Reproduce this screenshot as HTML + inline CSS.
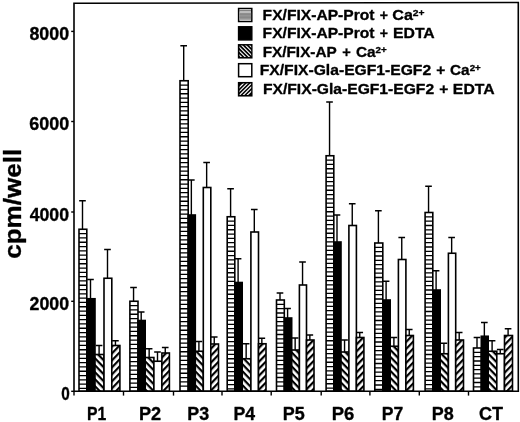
<!DOCTYPE html>
<html lang="en"><head><meta charset="utf-8"><title>cpm/well bar chart</title>
<style>html,body{margin:0;padding:0;background:#fff}body{width:520px;height:422px;overflow:hidden}svg{display:block}text{font-family:"Liberation Sans",Arial,Helvetica,sans-serif;font-weight:bold;fill:#000;stroke:#000;stroke-width:0.33px;stroke-linejoin:round}</style>
</head><body>
<svg width="520" height="422" viewBox="0 0 520 422">
<defs>
<pattern id="bk" patternUnits="userSpaceOnUse" width="8" height="4.85" patternTransform="rotate(46)"><rect width="8" height="4.85" fill="#fff"/><rect width="8" height="2.2" fill="#000"/></pattern>
<pattern id="fw" patternUnits="userSpaceOnUse" width="8" height="4.85" patternTransform="rotate(-46)"><rect width="8" height="4.85" fill="#fff"/><rect width="8" height="2.2" fill="#000"/></pattern>
</defs>
<rect width="520" height="422" fill="#fff"/>
<g stroke="#000" stroke-width="1.60">
<rect x="79.00" y="229.25" width="7.80" height="161.95" fill="#fff"/>
<rect x="86.80" y="298.75" width="8.20" height="92.45" fill="#000"/>
<rect x="95.00" y="354.50" width="9.00" height="36.70" fill="url(#bk)"/>
<rect x="104.00" y="278.25" width="7.80" height="112.95" fill="#fff"/>
<rect x="111.80" y="345.50" width="8.10" height="45.70" fill="url(#fw)"/>
<rect x="129.90" y="301.25" width="8.10" height="89.95" fill="#fff"/>
<rect x="138.00" y="320.50" width="7.20" height="70.70" fill="#000"/>
<rect x="145.20" y="357.50" width="8.70" height="33.70" fill="url(#bk)"/>
<rect x="153.90" y="361.25" width="8.00" height="29.95" fill="#fff"/>
<rect x="161.90" y="353.00" width="7.50" height="38.20" fill="url(#fw)"/>
<rect x="180.00" y="80.75" width="8.20" height="310.45" fill="#fff"/>
<rect x="188.20" y="215.00" width="7.10" height="176.20" fill="#000"/>
<rect x="195.30" y="351.25" width="8.00" height="39.95" fill="url(#bk)"/>
<rect x="203.30" y="187.50" width="7.50" height="203.70" fill="#fff"/>
<rect x="210.80" y="344.00" width="7.70" height="47.20" fill="url(#fw)"/>
<rect x="227.20" y="216.75" width="7.60" height="174.45" fill="#fff"/>
<rect x="234.80" y="282.50" width="7.40" height="108.70" fill="#000"/>
<rect x="242.20" y="358.75" width="8.70" height="32.45" fill="url(#bk)"/>
<rect x="250.90" y="232.00" width="7.60" height="159.20" fill="#fff"/>
<rect x="258.50" y="343.75" width="7.50" height="47.45" fill="url(#fw)"/>
<rect x="276.50" y="300.00" width="7.80" height="91.20" fill="#fff"/>
<rect x="284.30" y="318.00" width="7.40" height="73.20" fill="#000"/>
<rect x="291.70" y="350.00" width="7.70" height="41.20" fill="url(#bk)"/>
<rect x="299.40" y="285.00" width="7.10" height="106.20" fill="#fff"/>
<rect x="306.50" y="340.00" width="7.50" height="51.20" fill="url(#fw)"/>
<rect x="326.10" y="155.75" width="7.70" height="235.45" fill="#fff"/>
<rect x="333.80" y="242.00" width="7.20" height="149.20" fill="#000"/>
<rect x="341.00" y="352.00" width="7.90" height="39.20" fill="url(#bk)"/>
<rect x="348.90" y="225.50" width="7.50" height="165.70" fill="#fff"/>
<rect x="356.40" y="337.50" width="7.50" height="53.70" fill="url(#fw)"/>
<rect x="374.80" y="243.00" width="8.00" height="148.20" fill="#fff"/>
<rect x="382.80" y="300.00" width="7.40" height="91.20" fill="#000"/>
<rect x="390.20" y="346.25" width="8.20" height="44.95" fill="url(#bk)"/>
<rect x="398.40" y="259.50" width="7.50" height="131.70" fill="#fff"/>
<rect x="405.90" y="335.50" width="7.50" height="55.70" fill="url(#fw)"/>
<rect x="425.10" y="212.50" width="7.70" height="178.70" fill="#fff"/>
<rect x="432.80" y="290.00" width="7.40" height="101.20" fill="#000"/>
<rect x="440.20" y="353.75" width="8.20" height="37.45" fill="url(#bk)"/>
<rect x="448.40" y="253.25" width="7.30" height="137.95" fill="#fff"/>
<rect x="455.70" y="340.00" width="7.80" height="51.20" fill="url(#fw)"/>
<rect x="473.50" y="348.00" width="7.80" height="43.20" fill="#fff"/>
<rect x="481.30" y="336.25" width="6.90" height="54.95" fill="#000"/>
<rect x="488.20" y="351.25" width="8.60" height="39.95" fill="url(#bk)"/>
<rect x="496.80" y="353.75" width="7.70" height="37.45" fill="#fff"/>
<rect x="504.50" y="335.50" width="8.00" height="55.70" fill="url(#fw)"/>
</g>
<path d="M79.00 233.65H86.80M79.00 237.95H86.80M79.00 242.25H86.80M79.00 246.55H86.80M79.00 250.85H86.80M79.00 255.15H86.80M79.00 259.45H86.80M79.00 263.75H86.80M79.00 268.05H86.80M79.00 272.35H86.80M79.00 276.65H86.80M79.00 280.95H86.80M79.00 285.25H86.80M79.00 289.55H86.80M79.00 293.85H86.80M79.00 298.15H86.80M79.00 302.45H86.80M79.00 306.75H86.80M79.00 311.05H86.80M79.00 315.35H86.80M79.00 319.65H86.80M79.00 323.95H86.80M79.00 328.25H86.80M79.00 332.55H86.80M79.00 336.85H86.80M79.00 341.15H86.80M79.00 345.45H86.80M79.00 349.75H86.80M79.00 354.05H86.80M79.00 358.35H86.80M79.00 362.65H86.80M79.00 366.95H86.80M79.00 371.25H86.80M79.00 375.55H86.80M79.00 379.85H86.80M79.00 384.15H86.80M79.00 388.45H86.80M129.90 305.65H138.00M129.90 309.95H138.00M129.90 314.25H138.00M129.90 318.55H138.00M129.90 322.85H138.00M129.90 327.15H138.00M129.90 331.45H138.00M129.90 335.75H138.00M129.90 340.05H138.00M129.90 344.35H138.00M129.90 348.65H138.00M129.90 352.95H138.00M129.90 357.25H138.00M129.90 361.55H138.00M129.90 365.85H138.00M129.90 370.15H138.00M129.90 374.45H138.00M129.90 378.75H138.00M129.90 383.05H138.00M129.90 387.35H138.00M180.00 85.15H188.20M180.00 89.45H188.20M180.00 93.75H188.20M180.00 98.05H188.20M180.00 102.35H188.20M180.00 106.65H188.20M180.00 110.95H188.20M180.00 115.25H188.20M180.00 119.55H188.20M180.00 123.85H188.20M180.00 128.15H188.20M180.00 132.45H188.20M180.00 136.75H188.20M180.00 141.05H188.20M180.00 145.35H188.20M180.00 149.65H188.20M180.00 153.95H188.20M180.00 158.25H188.20M180.00 162.55H188.20M180.00 166.85H188.20M180.00 171.15H188.20M180.00 175.45H188.20M180.00 179.75H188.20M180.00 184.05H188.20M180.00 188.35H188.20M180.00 192.65H188.20M180.00 196.95H188.20M180.00 201.25H188.20M180.00 205.55H188.20M180.00 209.85H188.20M180.00 214.15H188.20M180.00 218.45H188.20M180.00 222.75H188.20M180.00 227.05H188.20M180.00 231.35H188.20M180.00 235.65H188.20M180.00 239.95H188.20M180.00 244.25H188.20M180.00 248.55H188.20M180.00 252.85H188.20M180.00 257.15H188.20M180.00 261.45H188.20M180.00 265.75H188.20M180.00 270.05H188.20M180.00 274.35H188.20M180.00 278.65H188.20M180.00 282.95H188.20M180.00 287.25H188.20M180.00 291.55H188.20M180.00 295.85H188.20M180.00 300.15H188.20M180.00 304.45H188.20M180.00 308.75H188.20M180.00 313.05H188.20M180.00 317.35H188.20M180.00 321.65H188.20M180.00 325.95H188.20M180.00 330.25H188.20M180.00 334.55H188.20M180.00 338.85H188.20M180.00 343.15H188.20M180.00 347.45H188.20M180.00 351.75H188.20M180.00 356.05H188.20M180.00 360.35H188.20M180.00 364.65H188.20M180.00 368.95H188.20M180.00 373.25H188.20M180.00 377.55H188.20M180.00 381.85H188.20M180.00 386.15H188.20M227.20 221.15H234.80M227.20 225.45H234.80M227.20 229.75H234.80M227.20 234.05H234.80M227.20 238.35H234.80M227.20 242.65H234.80M227.20 246.95H234.80M227.20 251.25H234.80M227.20 255.55H234.80M227.20 259.85H234.80M227.20 264.15H234.80M227.20 268.45H234.80M227.20 272.75H234.80M227.20 277.05H234.80M227.20 281.35H234.80M227.20 285.65H234.80M227.20 289.95H234.80M227.20 294.25H234.80M227.20 298.55H234.80M227.20 302.85H234.80M227.20 307.15H234.80M227.20 311.45H234.80M227.20 315.75H234.80M227.20 320.05H234.80M227.20 324.35H234.80M227.20 328.65H234.80M227.20 332.95H234.80M227.20 337.25H234.80M227.20 341.55H234.80M227.20 345.85H234.80M227.20 350.15H234.80M227.20 354.45H234.80M227.20 358.75H234.80M227.20 363.05H234.80M227.20 367.35H234.80M227.20 371.65H234.80M227.20 375.95H234.80M227.20 380.25H234.80M227.20 384.55H234.80M227.20 388.85H234.80M276.50 304.40H284.30M276.50 308.70H284.30M276.50 313.00H284.30M276.50 317.30H284.30M276.50 321.60H284.30M276.50 325.90H284.30M276.50 330.20H284.30M276.50 334.50H284.30M276.50 338.80H284.30M276.50 343.10H284.30M276.50 347.40H284.30M276.50 351.70H284.30M276.50 356.00H284.30M276.50 360.30H284.30M276.50 364.60H284.30M276.50 368.90H284.30M276.50 373.20H284.30M276.50 377.50H284.30M276.50 381.80H284.30M276.50 386.10H284.30M326.10 160.15H333.80M326.10 164.45H333.80M326.10 168.75H333.80M326.10 173.05H333.80M326.10 177.35H333.80M326.10 181.65H333.80M326.10 185.95H333.80M326.10 190.25H333.80M326.10 194.55H333.80M326.10 198.85H333.80M326.10 203.15H333.80M326.10 207.45H333.80M326.10 211.75H333.80M326.10 216.05H333.80M326.10 220.35H333.80M326.10 224.65H333.80M326.10 228.95H333.80M326.10 233.25H333.80M326.10 237.55H333.80M326.10 241.85H333.80M326.10 246.15H333.80M326.10 250.45H333.80M326.10 254.75H333.80M326.10 259.05H333.80M326.10 263.35H333.80M326.10 267.65H333.80M326.10 271.95H333.80M326.10 276.25H333.80M326.10 280.55H333.80M326.10 284.85H333.80M326.10 289.15H333.80M326.10 293.45H333.80M326.10 297.75H333.80M326.10 302.05H333.80M326.10 306.35H333.80M326.10 310.65H333.80M326.10 314.95H333.80M326.10 319.25H333.80M326.10 323.55H333.80M326.10 327.85H333.80M326.10 332.15H333.80M326.10 336.45H333.80M326.10 340.75H333.80M326.10 345.05H333.80M326.10 349.35H333.80M326.10 353.65H333.80M326.10 357.95H333.80M326.10 362.25H333.80M326.10 366.55H333.80M326.10 370.85H333.80M326.10 375.15H333.80M326.10 379.45H333.80M326.10 383.75H333.80M326.10 388.05H333.80M374.80 247.40H382.80M374.80 251.70H382.80M374.80 256.00H382.80M374.80 260.30H382.80M374.80 264.60H382.80M374.80 268.90H382.80M374.80 273.20H382.80M374.80 277.50H382.80M374.80 281.80H382.80M374.80 286.10H382.80M374.80 290.40H382.80M374.80 294.70H382.80M374.80 299.00H382.80M374.80 303.30H382.80M374.80 307.60H382.80M374.80 311.90H382.80M374.80 316.20H382.80M374.80 320.50H382.80M374.80 324.80H382.80M374.80 329.10H382.80M374.80 333.40H382.80M374.80 337.70H382.80M374.80 342.00H382.80M374.80 346.30H382.80M374.80 350.60H382.80M374.80 354.90H382.80M374.80 359.20H382.80M374.80 363.50H382.80M374.80 367.80H382.80M374.80 372.10H382.80M374.80 376.40H382.80M374.80 380.70H382.80M374.80 385.00H382.80M374.80 389.30H382.80M425.10 216.90H432.80M425.10 221.20H432.80M425.10 225.50H432.80M425.10 229.80H432.80M425.10 234.10H432.80M425.10 238.40H432.80M425.10 242.70H432.80M425.10 247.00H432.80M425.10 251.30H432.80M425.10 255.60H432.80M425.10 259.90H432.80M425.10 264.20H432.80M425.10 268.50H432.80M425.10 272.80H432.80M425.10 277.10H432.80M425.10 281.40H432.80M425.10 285.70H432.80M425.10 290.00H432.80M425.10 294.30H432.80M425.10 298.60H432.80M425.10 302.90H432.80M425.10 307.20H432.80M425.10 311.50H432.80M425.10 315.80H432.80M425.10 320.10H432.80M425.10 324.40H432.80M425.10 328.70H432.80M425.10 333.00H432.80M425.10 337.30H432.80M425.10 341.60H432.80M425.10 345.90H432.80M425.10 350.20H432.80M425.10 354.50H432.80M425.10 358.80H432.80M425.10 363.10H432.80M425.10 367.40H432.80M425.10 371.70H432.80M425.10 376.00H432.80M425.10 380.30H432.80M425.10 384.60H432.80M425.10 388.90H432.80M473.50 352.40H481.30M473.50 356.70H481.30M473.50 361.00H481.30M473.50 365.30H481.30M473.50 369.60H481.30M473.50 373.90H481.30M473.50 378.20H481.30M473.50 382.50H481.30M473.50 386.80H481.30" stroke="#000" stroke-width="1.3" fill="none"/>
<g stroke="#000" stroke-width="1.4" fill="none">
<path d="M82.50 229.25V200.75M79.15 200.75H85.80"/>
<path d="M90.50 298.75V279.50M87.15 279.50H93.80"/>
<path d="M99.10 354.50V345.50M95.75 345.50H102.40"/>
<path d="M107.50 278.25V249.50M104.15 249.50H110.80"/>
<path d="M115.45 345.50V340.75M112.10 340.75H118.75"/>
<path d="M133.55 301.25V287.50M130.20 287.50H136.85"/>
<path d="M141.20 320.50V312.00M137.85 312.00H144.50"/>
<path d="M149.15 357.50V348.75M145.80 348.75H152.45"/>
<path d="M157.50 361.25V352.00M154.15 352.00H160.80"/>
<path d="M165.25 353.00V347.50M161.90 347.50H168.55"/>
<path d="M183.70 80.75V45.75M180.35 45.75H187.00"/>
<path d="M191.35 215.00V180.00M188.00 180.00H194.65"/>
<path d="M198.90 351.25V341.50M195.55 341.50H202.20"/>
<path d="M206.65 187.50V162.50M203.30 162.50H209.95"/>
<path d="M214.25 344.00V337.00M210.90 337.00H217.55"/>
<path d="M230.60 216.75V188.75M227.25 188.75H233.90"/>
<path d="M238.10 282.50V258.75M234.75 258.75H241.40"/>
<path d="M246.15 358.75V343.75M242.80 343.75H249.45"/>
<path d="M254.30 232.00V209.50M250.95 209.50H257.60"/>
<path d="M261.85 343.75V338.25M258.50 338.25H265.15"/>
<path d="M280.00 300.00V293.00M276.65 293.00H283.30"/>
<path d="M287.60 318.00V308.50M284.25 308.50H290.90"/>
<path d="M295.15 350.00V338.00M291.80 338.00H298.45"/>
<path d="M302.55 285.00V262.00M299.20 262.00H305.85"/>
<path d="M309.85 340.00V335.00M306.50 335.00H313.15"/>
<path d="M329.55 155.75V102.00M326.20 102.00H332.85"/>
<path d="M337.00 242.00V215.00M333.65 215.00H340.30"/>
<path d="M344.55 352.00V340.00M341.20 340.00H347.85"/>
<path d="M352.25 225.50V203.75M348.90 203.75H355.55"/>
<path d="M359.75 337.50V332.50M356.40 332.50H363.05"/>
<path d="M378.40 243.00V210.75M375.05 210.75H381.70"/>
<path d="M386.10 300.00V281.25M382.75 281.25H389.40"/>
<path d="M393.90 346.25V337.50M390.55 337.50H397.20"/>
<path d="M401.75 259.50V237.50M398.40 237.50H405.05"/>
<path d="M409.25 335.50V329.50M405.90 329.50H412.55"/>
<path d="M428.55 212.50V186.25M425.20 186.25H431.85"/>
<path d="M436.10 290.00V270.75M432.75 270.75H439.40"/>
<path d="M443.90 353.75V343.25M440.55 343.25H447.20"/>
<path d="M451.65 253.25V237.50M448.30 237.50H454.95"/>
<path d="M459.20 340.00V332.50M455.85 332.50H462.50"/>
<path d="M477.00 348.00V337.50M473.65 337.50H480.30"/>
<path d="M484.35 336.25V322.50M481.00 322.50H487.65"/>
<path d="M492.10 351.25V340.75M488.75 340.75H495.40"/>
<path d="M500.25 353.75V349.50M496.90 349.50H503.55"/>
<path d="M508.10 335.50V328.75M504.75 328.75H511.40"/>
</g>
<g stroke="#000" fill="none">
<path d="M74.00 3.30L518.30 2.50L518.30 391.20L74.00 391.20L74.00 3.30Z" stroke-width="1.6"/>
<path d="M74.00 391.20V395.60" stroke-width="1.4"/>
<path d="M123.50 391.20V395.60" stroke-width="1.4"/>
<path d="M173.50 391.20V395.60" stroke-width="1.4"/>
<path d="M222.00 391.20V395.60" stroke-width="1.4"/>
<path d="M271.20 391.20V395.60" stroke-width="1.4"/>
<path d="M321.20 391.20V395.60" stroke-width="1.4"/>
<path d="M369.90 391.20V395.60" stroke-width="1.4"/>
<path d="M419.30 391.20V395.60" stroke-width="1.4"/>
<path d="M468.50 391.20V395.60" stroke-width="1.4"/>
<path d="M74.00 31.40H71.20" stroke-width="1.4"/>
<path d="M74.00 121.50H71.20" stroke-width="1.4"/>
<path d="M74.00 212.00H71.20" stroke-width="1.4"/>
<path d="M74.00 301.30H71.20" stroke-width="1.4"/>
<path d="M74.00 391.30H71.20" stroke-width="1.4"/>
</g>
<text transform="translate(20.9 258.8) rotate(-90)" font-size="24" textLength="110" lengthAdjust="spacingAndGlyphs">cpm/well</text>
<defs><clipPath id="c3"><rect x="239.5" y="45.5" width="11.7" height="11.6"/></clipPath><clipPath id="c5"><rect x="239.5" y="83.4" width="11.7" height="11.7"/></clipPath></defs>
<rect x="238.6" y="8.5" width="13.2" height="13" fill="#fff" stroke="#000" stroke-width="1.5"/>
<rect x="239.3" y="10.45" width="11.8" height="0.85" fill="#222"/>
<rect x="239.3" y="12.5" width="11.8" height="7.1" fill="#9c9c9c"/>
<rect x="239.3" y="12.80" width="11.8" height="0.6" fill="#7d7d7d"/>
<rect x="239.3" y="14.30" width="11.8" height="0.6" fill="#7d7d7d"/>
<rect x="239.3" y="15.80" width="11.8" height="0.6" fill="#7d7d7d"/>
<rect x="239.3" y="17.30" width="11.8" height="0.6" fill="#7d7d7d"/>
<rect x="239.3" y="18.80" width="11.8" height="0.6" fill="#7d7d7d"/>
<rect x="238.6" y="26.8" width="13.2" height="13.1" fill="#000" stroke="#000" stroke-width="1.5"/>
<rect x="238.6" y="44.8" width="13.2" height="13" fill="#000" stroke="#000" stroke-width="1.5"/>
<g clip-path="url(#c3)" stroke="#fff" stroke-width="1.15">
<path d="M224.30 40L246.30 62"/>
<path d="M228.30 40L250.30 62"/>
<path d="M232.30 40L254.30 62"/>
<path d="M236.30 40L258.30 62"/>
<path d="M240.30 40L262.30 62"/>
<path d="M244.30 40L266.30 62"/>
</g>
<rect x="238.6" y="63.7" width="13.2" height="13" fill="#fff" stroke="#000" stroke-width="1.5"/>
<rect x="238.6" y="82.7" width="13.2" height="13.1" fill="#000" stroke="#000" stroke-width="1.5"/>
<g clip-path="url(#c5)" stroke="#fff" stroke-width="1.2">
<path d="M248.90 78L226.90 100"/>
<path d="M252.75 78L230.75 100"/>
<path d="M256.60 78L234.60 100"/>
<path d="M260.45 78L238.45 100"/>
<path d="M264.30 78L242.30 100"/>
</g>
<text y="19.80" font-size="15.2"><tspan x="262.64" textLength="111.84" lengthAdjust="spacingAndGlyphs">FX/FIX-AP-Prot</tspan> <tspan x="379.87" textLength="8.21" lengthAdjust="spacingAndGlyphs">+</tspan> <tspan x="392.28" textLength="32.30" lengthAdjust="spacingAndGlyphs">Ca<tspan font-size="9.7" dy="-3.7">2+</tspan></tspan></text>
<text y="38.20" font-size="15.2"><tspan x="262.64" textLength="111.84" lengthAdjust="spacingAndGlyphs">FX/FIX-AP-Prot</tspan> <tspan x="379.87" textLength="8.21" lengthAdjust="spacingAndGlyphs">+</tspan> <tspan x="393.01" textLength="41.75" lengthAdjust="spacingAndGlyphs">EDTA</tspan></text>
<text y="56.80" font-size="15.2"><tspan x="262.70" textLength="73.77" lengthAdjust="spacingAndGlyphs">FX/FIX-AP</tspan> <tspan x="342.27" textLength="8.54" lengthAdjust="spacingAndGlyphs">+</tspan> <tspan x="355.94" textLength="30.85" lengthAdjust="spacingAndGlyphs">Ca<tspan font-size="9.7" dy="-3.7">2+</tspan></tspan></text>
<text y="75.00" font-size="15.2"><tspan x="259.74" textLength="171.42" lengthAdjust="spacingAndGlyphs">FX/FIX-Gla-EGF1-EGF2</tspan> <tspan x="436.32" textLength="9.03" lengthAdjust="spacingAndGlyphs">+</tspan> <tspan x="450.07" textLength="30.72" lengthAdjust="spacingAndGlyphs">Ca<tspan font-size="9.7" dy="-3.7">2+</tspan></tspan></text>
<text y="93.70" font-size="15.2"><tspan x="263.03" textLength="171.08" lengthAdjust="spacingAndGlyphs">FX/FIX-Gla-EGF1-EGF2</tspan> <tspan x="439.32" textLength="9.03" lengthAdjust="spacingAndGlyphs">+</tspan> <tspan x="452.89" textLength="41.73" lengthAdjust="spacingAndGlyphs">EDTA</tspan></text>
<text x="87.08" y="419.60" font-size="17.7" textLength="19.24" lengthAdjust="spacingAndGlyphs">P1</text>
<text x="138.91" y="419.60" font-size="17.7" textLength="22.22" lengthAdjust="spacingAndGlyphs">P2</text>
<text x="187.31" y="419.60" font-size="17.7" textLength="21.84" lengthAdjust="spacingAndGlyphs">P3</text>
<text x="233.51" y="419.60" font-size="17.7" textLength="21.61" lengthAdjust="spacingAndGlyphs">P4</text>
<text x="282.83" y="419.60" font-size="17.7" textLength="21.95" lengthAdjust="spacingAndGlyphs">P5</text>
<text x="331.81" y="419.60" font-size="17.7" textLength="22.54" lengthAdjust="spacingAndGlyphs">P6</text>
<text x="381.84" y="419.60" font-size="17.7" textLength="21.45" lengthAdjust="spacingAndGlyphs">P7</text>
<text x="431.67" y="419.60" font-size="17.7" textLength="21.96" lengthAdjust="spacingAndGlyphs">P8</text>
<text x="479.03" y="419.60" font-size="17.7" textLength="24.04" lengthAdjust="spacingAndGlyphs">CT</text>
<text x="29.48" y="40.20" font-size="17.5" textLength="39.59" lengthAdjust="spacingAndGlyphs">8000</text>
<text x="29.28" y="130.30" font-size="17.5" textLength="39.85" lengthAdjust="spacingAndGlyphs">6000</text>
<text x="29.70" y="220.80" font-size="17.5" textLength="39.31" lengthAdjust="spacingAndGlyphs">4000</text>
<text x="29.58" y="310.10" font-size="17.5" textLength="39.49" lengthAdjust="spacingAndGlyphs">2000</text>
<text x="61.36" y="400.10" font-size="17.5" textLength="8.50" lengthAdjust="spacingAndGlyphs">0</text>
</svg>
</body></html>
